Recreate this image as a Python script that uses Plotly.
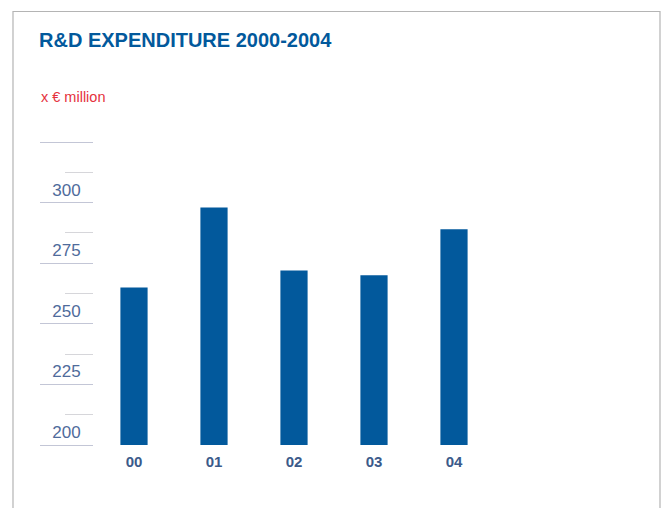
import plotly.graph_objects as go

# Data
years = ["00", "01", "02", "03", "04"]
rd_expenditure = [265, 298, 272, 270, 289]
major_ticks = [200, 225, 250, 275, 300, 325]
major_labels = ["200", "225", "250", "275", "300", ""]
minor_ticks = [212.5, 237.5, 262.5, 287.5, 312.5]

BLUE = "#02599c"
W, H = 664, 508
L, R, T, B = 94, 170, 142, 63
pw, ph = W - L - R, H - T - B

def px(x):
    return (x - L) / pw

def py(y):
    return (H - B - y) / ph

fig = go.Figure(
    go.Bar(
        x=years,
        y=rd_expenditure,
        marker=dict(color=BLUE, line=dict(width=0)),
        width=0.34,
        hoverinfo="x+y",
    )
)

fig.update_layout(
    width=W,
    height=H,
    margin=dict(l=L, r=R, t=T, b=B, pad=0),
    paper_bgcolor="white",
    plot_bgcolor="white",
    showlegend=False,
    font=dict(family="Liberation Sans, Arial, sans-serif"),
    title=dict(
        text="R&D EXPENDITURE 2000-2004",
        font=dict(family="Liberation Sans, Arial, sans-serif",
                  size=20, color=BLUE, weight="bold"),
        xref="container", yref="container",
        x=39 / W, xanchor="left",
        y=1 - 39.5 / H, yanchor="middle",
    ),
    xaxis=dict(
        type="category",
        range=[-0.5, 4.5],
        showgrid=False, zeroline=False, showline=False,
        ticks="",
        tickfont=dict(size=15, color="#3b5a8a", weight="bold"),
        ticklabelstandoff=6,
        fixedrange=True,
    ),
    yaxis=dict(
        range=[200, 325],
        showgrid=False, zeroline=False, showline=False,
        tickmode="array",
        tickvals=major_ticks,
        ticktext=major_labels,
        ticks="outside",
        ticklen=53,
        tickwidth=1,
        tickcolor="#c3c6d6",
        tickfont=dict(size=17, color="#4f6b9b"),
        ticklabelshift=-13,
        ticklabelstandoff=-44,
        minor=dict(
            tickmode="array",
            tickvals=minor_ticks,
            ticks="outside",
            ticklen=28,
            tickwidth=1,
            tickcolor="#d6d6da",
            showgrid=False,
        ),
        fixedrange=True,
    ),
    annotations=[
        dict(
            text="x € million",
            xref="paper", yref="paper",
            x=px(39), y=py(97),
            xanchor="left", yanchor="middle",
            showarrow=False,
            font=dict(size=14.5, color="#e5323d", family="Liberation Sans, Arial, sans-serif"),
        )
    ],
    shapes=[
        dict(
            type="path",
            xref="paper", yref="paper",
            path=f"M {px(13)} {py(520)} L {px(13)} {py(11.5)} L {px(660)} {py(11.5)} L {px(660)} {py(520)}",
            line=dict(color="#b4b4b4", width=1.2),
            layer="below",
        )
    ],
)

fig.write_html("out.html")
